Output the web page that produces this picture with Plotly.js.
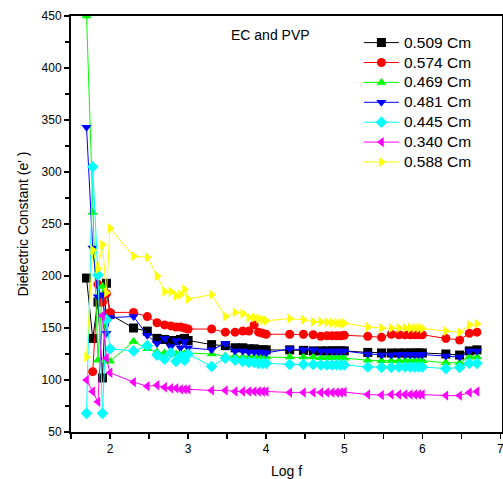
<!DOCTYPE html>
<html>
<head>
<meta charset="utf-8">
<script src="https://cdn.plot.ly/plotly-3.0.1.min.js"></script>
<style>html,body{margin:0;padding:0;background:#fff;}#chart{width:503px;height:479px;}</style>
</head>
<body>
<div id="chart"></div>
<script>
// Log of frequency (Hz)
const logF = [1.699, 1.778, 1.845, 1.903, 1.954, 2.0,
  2.301, 2.477, 2.602, 2.699, 2.778, 2.845, 2.903, 2.954, 3.0,
  3.301, 3.477, 3.602, 3.699, 3.778, 3.845, 3.903, 3.954, 4.0,
  4.301, 4.477, 4.602, 4.699, 4.778, 4.845, 4.903, 4.954, 5.0,
  5.301, 5.477, 5.602, 5.699, 5.778, 5.845, 5.903, 5.954, 6.0,
  6.301, 6.477, 6.602, 6.699];

const seriesNames = ["0.509 Cm", "0.574 Cm", "0.469 Cm", "0.481 Cm", "0.445 Cm", "0.340 Cm", "0.588 Cm"];

const cm0509 = [198, 140, 175, 102, 193, 163,
  150, 147, 140, 139, 138, 138, 139, 140, 138,
  134, 133, 131, 131, 130, 130, 129, 129, 129,
  129, 128.5, 128, 128, 128, 128, 128, 128, 128,
  126.5, 126, 126, 126, 126, 126, 126, 126, 126,
  125, 124, 128, 129];

const cm0574 = [null, 108, 192, 175, 183, 165,
  165, 161, 155, 153, 152, 151, 151, 150, 149,
  149, 146, 146, 147, 147, 153, 146, 145, 144,
  144, 144, 143.5, 142, 142.5, 142.5, 142.5, 142.5, 143,
  142, 141, 144, 143.5, 143.5, 143.5, 143.5, 143.5, 143.5,
  140, 138.5, 145, 146];

const cm0469 = [450, 261, 119, 190, 119, 118,
  137, 130, 127, 126, 126, 125, 126, 125, 126,
  125, 123, 123, 122, 122, 122, 122, 122, 122,
  122, 122, 122, 121.5, 121.5, 121.5, 121.5, 121.5, 121,
  119, 118.6, 118.6, 118.6, 118.6, 118.6, 118.6, 118.6, 118.6,
  116.6, 116.6, 122, 122];

const cm0481 = [343, 227, 180, 182, 145, 160,
  161, 143, 135, 140, 132, 138, 131, 137, 131,
  129, 135, 128, 128, 127, 127, 127, 127, 126,
  130, 129, 129, 128, 128, 128, 128, 128, 128,
  125, 124, 124, 124.5, 124.5, 124.5, 124.5, 124.5, 124.5,
  123, 122, 128, 128];

const cm0445 = [68, 305, 201, 68, 158, 130,
  128, 133, 124, 120, 126, 118, 123, 119, 125,
  113, 121, 119, 118, 117, 117, 116, 116, 116,
  115, 115, 115, 114.5, 114.5, 114.5, 114.5, 114.5, 114.5,
  112.5, 112.2, 112.2, 112.5, 112.5, 112.5, 112.5, 112.5, 112.5,
  111, 112, 116, 116];

const cm0340 = [100, 89, 79, 162, 121, 107,
  98, 94, 95, 93, 92, 92, 91, 91, 91,
  90, 90, 89, 89, 89, 89, 89, 89, 89,
  88, 88, 88, 88, 88, 88, 88, 88, 88.5,
  86, 85.5, 86, 86, 86, 86, 86, 86, 86,
  85, 85, 88, 89];

const cm0588 = [122, 225, 207, 230, 184, 246,
  219, 218, 200, 185, 185, 181, 182, 187, 178,
  182, 161, 165, 164, 160, 160, 159, 158, 157,
  159, 158, 156, 156, 155.5, 155, 154.5, 154.5, 154.5,
  151, 150, 150, 150, 150, 150, 150, 150, 149.5,
  147, 146, 153, 154];

const seriesValues = [cm0509, cm0574, cm0469, cm0481, cm0445, cm0340, cm0588];
const colors = ["#000000", "#ff0000", "#00ff00", "#0000ff", "#00ffff", "#ff00ff", "#ffff00"];
const symbols = ["square", "circle", "triangle-up", "triangle-down", "diamond", "triangle-left", "triangle-right"];

const traces = seriesValues.map((vals, i) => ({
  type: "scatter",
  mode: "lines+markers",
  name: '<span style="font-size:15.5px">' + seriesNames[i] + '</span>',
  x: logF,
  y: vals,
  connectgaps: true,
  line: {color: colors[i], width: 1},
  marker: {color: colors[i], symbol: symbols[i], size: 9, line: {width: 0}}
}));

const FONT = "Liberation Sans, Arial, sans-serif";
const axisCommon = {
  showline: true, linecolor: "#000", linewidth: 2, mirror: true,
  ticks: "outside", ticklen: 5, tickwidth: 1.5, tickcolor: "#000",
  showgrid: false, zeroline: false, ticklabeloverflow: "allow",
  tickfont: {family: FONT, size: 12, color: "#000"}
};

const layout = {
  width: 503, height: 479,
  margin: {l: 71, r: 1, t: 16, b: 47},
  paper_bgcolor: "#fff", plot_bgcolor: "#fff",
  font: {family: FONT, color: "#000"},
  showlegend: true,
  legend: {
    x: 0.668, y: 0.972, xanchor: "left", yanchor: "top",
    bgcolor: "rgba(0,0,0,0)", borderwidth: 0,
    font: {family: FONT, size: 13, color: "#000"},
    itemwidth: 35,
    tracegroupgap: 0
  },
  xaxis: Object.assign({}, axisCommon, {
    range: [1.5, 7.02], tick0: 0, dtick: 1,
    minor: {dtick: 0.5, ticks: "outside", ticklen: 5, tickwidth: 1.5, tickcolor: "#000"},
    title: {text: "Log f", font: {size: 14, color: "#000"}, standoff: 11}
  }),
  yaxis: Object.assign({}, axisCommon, {
    range: [50, 450], tick0: 0, dtick: 50,
    minor: {dtick: 25, ticks: "outside", ticklen: 4, tickwidth: 1.5, tickcolor: "#000"},
    title: {text: "Dielectric Constant (e' )", font: {size: 14, color: "#000"}, standoff: 10}
  }),
  xaxis2: {
    overlaying: "x", side: "top", anchor: "y", range: [1.5, 7.02], tick0: 0, dtick: 1,
    showline: false, showgrid: false, zeroline: false, showticklabels: false,
    ticks: "inside", ticklen: 5, tickwidth: 1.5, tickcolor: "#000",
    minor: {dtick: 0.5, ticks: "inside", ticklen: 5, tickwidth: 1.5, tickcolor: "#000"}
  },
  yaxis2: {
    overlaying: "y", side: "right", anchor: "x", range: [50, 450], tick0: 0, dtick: 50,
    showline: false, showgrid: false, zeroline: false, showticklabels: false,
    ticks: "inside", ticklen: 5, tickwidth: 1.5, tickcolor: "#000",
    minor: {dtick: 25, ticks: "inside", ticklen: 5, tickwidth: 1.5, tickcolor: "#000"}
  },
  annotations: [{
    text: "EC and PVP", xref: "paper", yref: "paper", x: 0.463, y: 0.954,
    xanchor: "center", yanchor: "middle", showarrow: false,
    font: {size: 14, color: "#000", family: FONT}
  }]
};

Plotly.newPlot("chart", traces, layout, {displayModeBar: false, staticPlot: true});
</script>
</body>
</html>
